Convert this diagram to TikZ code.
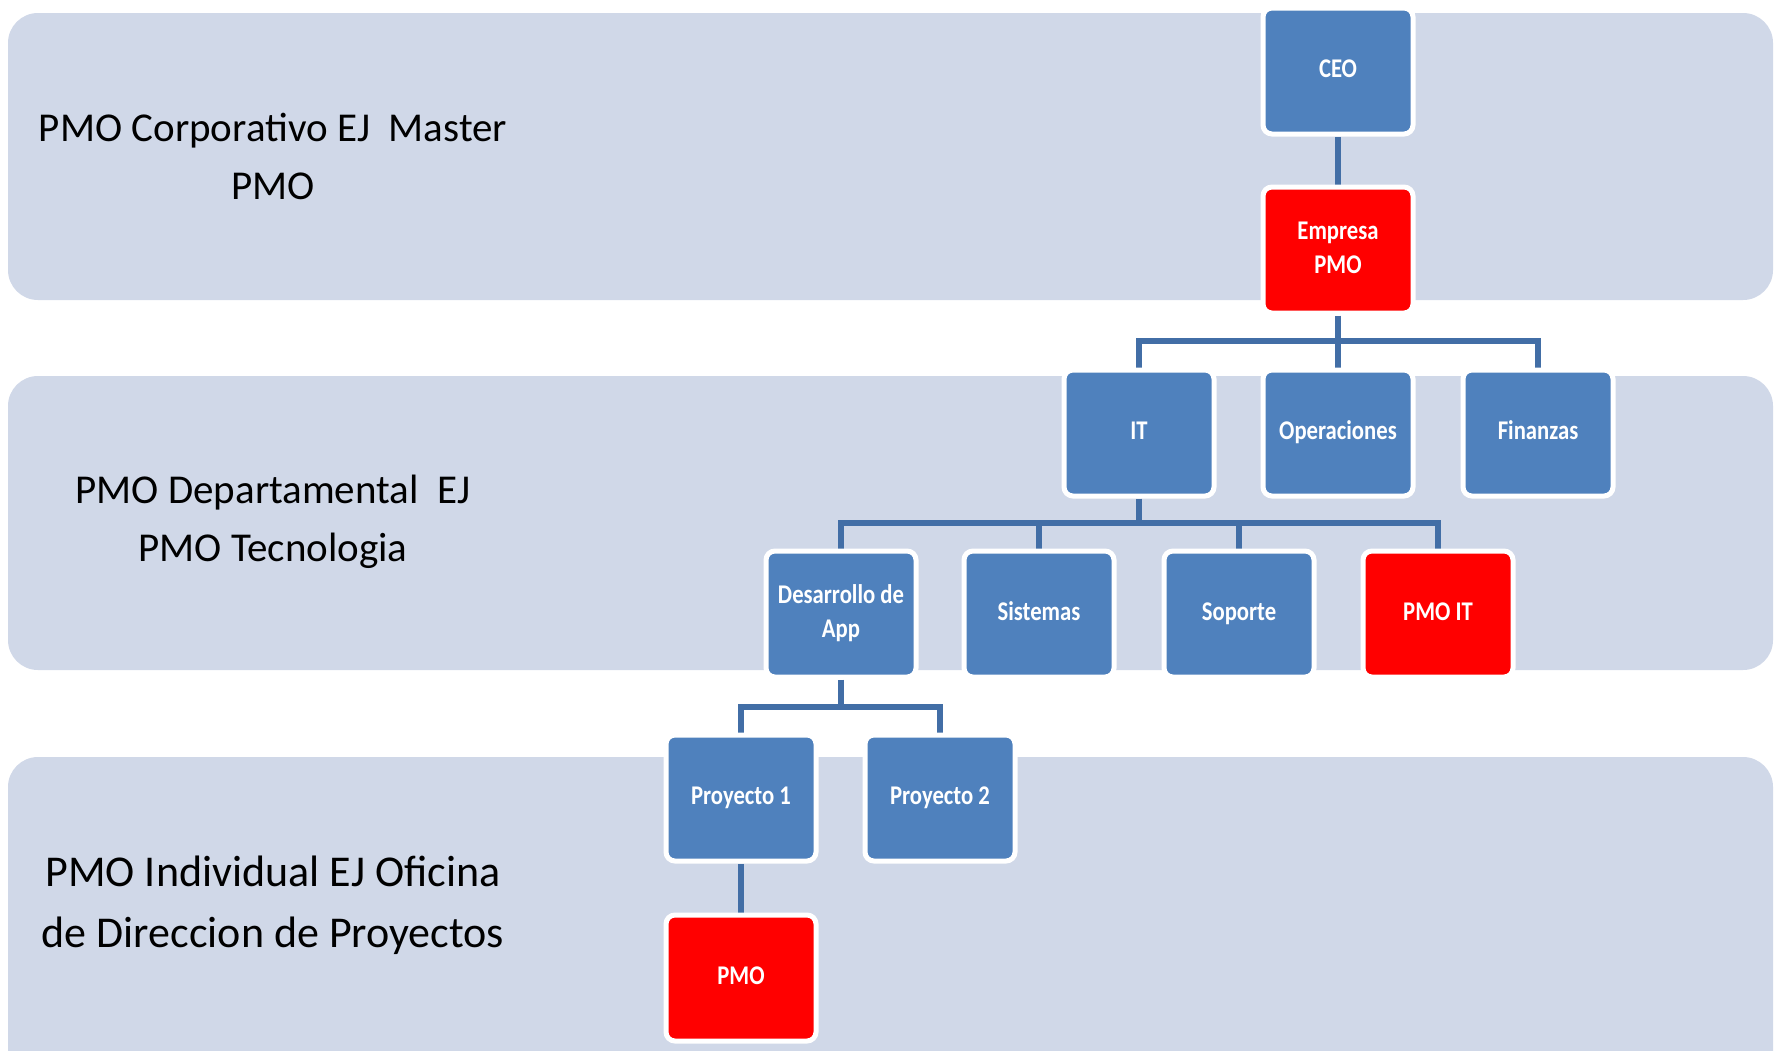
\documentclass[tikz,border=0pt]{standalone}
\usepackage{fontspec}
\setmainfont{Carlito}
\usetikzlibrary{calc}
\definecolor{bandfill}{HTML}{D0D8E8}
\definecolor{boxblue}{HTML}{4F81BD}
\definecolor{boxred}{HTML}{FF0000}
\definecolor{linkblue}{HTML}{426EA6}
\pgfdeclarelayer{bands}
\pgfdeclarelayer{links}
\pgfsetlayers{bands,links,main}
\newcommand{\boxtext}[1]{\scalebox{0.84}[1]{\begin{tabular}{@{}c@{}}#1\end{tabular}}}
\tikzset{
  unitbox/.style={rectangle, rounded corners=9pt, minimum width=150pt, minimum height=126pt,
    draw=white, line width=5pt, fill=boxblue, text=white, inner sep=0pt,
    font=\fontsize{27}{34}\selectfont\bfseries},
  pmobox/.style={unitbox, fill=boxred},
  band/.style={fill=bandfill, rounded corners=30pt},
  levellabel/.style={align=center, text=black, inner sep=0pt},
  link/.style={draw=linkblue, line width=5.5pt}
}
\begin{document}
\begin{tikzpicture}[x=1pt,y=-1pt]
\useasboundingbox (0,0) rectangle (1775,1050);

% tiers
\begin{pgfonlayer}{bands}
\fill[white] (0,0) rectangle (1775,1050);
\fill[band] (8,13) rectangle (1773,300);
\fill[band] (8,376) rectangle (1773,670);
\fill[band] (8,757) rectangle (1773,1110);
\end{pgfonlayer}

% tier names
\node[levellabel, font=\fontsize{41}{58}\selectfont] (lab1) at (273,156)
  {PMO Corporativo EJ\ \ Master\\PMO};
\node[levellabel, font=\fontsize{41}{58}\selectfont] (lab2) at (273,522)
  {PMO Departamental\ \ EJ\\PMO Tecnologia};
\node[levellabel, font=\fontsize{44}{61}\selectfont] (lab3) at (273,905)
  {PMO Individual EJ Oficina\\de Direccion de Proyectos};

% organisation units
\node[unitbox] (ceo) at (1338,71) {\boxtext{CEO}};
\node[pmobox]  (emp) at (1338,250) {\boxtext{Empresa\\PMO}};

\node[unitbox] (it)  at (1139,433) {\boxtext{IT}};
\node[unitbox] (ops) at (1338,433) {\boxtext{Operaciones}};
\node[unitbox] (fin) at (1538,433) {\boxtext{Finanzas}};

\node[unitbox] (dev) at (841,614)  {\boxtext{Desarrollo de\\App}};
\node[unitbox] (sis) at (1039,614) {\boxtext{Sistemas}};
\node[unitbox] (sop) at (1239,614) {\boxtext{Soporte}};
\node[pmobox]  (pit) at (1438,614) {\boxtext{PMO IT}};

\node[unitbox] (p1)  at (741,798)  {\boxtext{Proyecto 1}};
\node[unitbox] (p2)  at (940,798)  {\boxtext{Proyecto 2}};
\node[pmobox]  (pmo) at (741,978)  {\boxtext{PMO}};

% bus heights
\coordinate (busA) at (0,341);
\coordinate (busB) at (0,523);
\coordinate (busC) at (0,707);

% reporting lines
\begin{pgfonlayer}{links}
\draw[link] (ceo.south) -- (emp.north);
\foreach \c in {it,ops,fin}
  \draw[link] (emp.south) |- (busA -| \c) -- (\c.north);
\foreach \c in {dev,sis,sop,pit}
  \draw[link] (it.south) |- (busB -| \c) -- (\c.north);
\foreach \c in {p1,p2}
  \draw[link] (dev.south) |- (busC -| \c) -- (\c.north);
\draw[link] (p1.south) -- (pmo.north);
\end{pgfonlayer}
\end{tikzpicture}
\end{document}
